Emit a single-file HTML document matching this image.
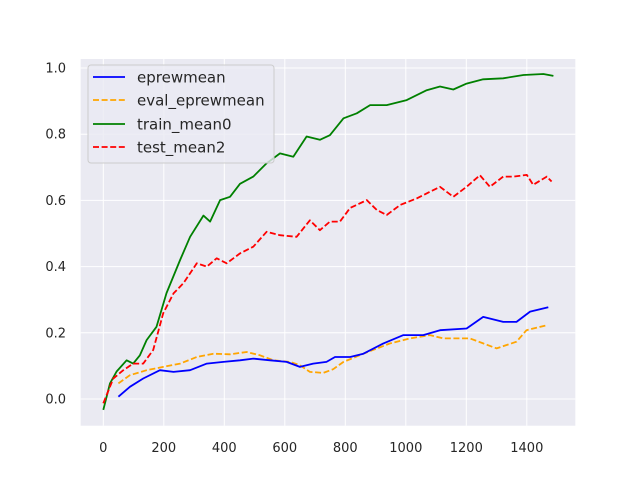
<!DOCTYPE html>
<html><head><meta charset="utf-8"><style>
html,body{margin:0;padding:0;background:#fff;}
svg{display:block;font-family:"DejaVu Sans","Liberation Sans",sans-serif;}
</style></head><body>
<svg id="chart" width="640" height="480" xmlns="http://www.w3.org/2000/svg">
<rect x="80.7" y="59" width="494.6" height="366.7" fill="#eaeaf2"/>
<g id="grid"></g>
<g id="ticks"></g>
<g id="series"></g>
<g id="legend">
<rect x="88" y="65" width="186" height="98" rx="3" fill="#eaeaf2" fill-opacity="0.8" stroke="#cccccc" stroke-width="1"/>
<g><line x1="93" y1="77" x2="125" y2="77" stroke="#0000ff" stroke-width="1.8"/><text x="137" y="82.5" font-size="15" fill="#262626">eprewmean</text></g>
<g><line x1="93" y1="100" x2="125" y2="100" stroke="#ffa500" stroke-width="1.8" stroke-dasharray="6,2.6"/><text x="137" y="105.5" font-size="15" fill="#262626">eval_eprewmean</text></g>
<g><line x1="93" y1="124" x2="125" y2="124" stroke="#008000" stroke-width="1.8"/><text x="137" y="129.5" font-size="15" fill="#262626">train_mean0</text></g>
<g><line x1="93" y1="147" x2="125" y2="147" stroke="#ff0000" stroke-width="1.8" stroke-dasharray="6,2.6"/><text x="137" y="152.5" font-size="15" fill="#262626">test_mean2</text></g>
</g>
</svg>
<script>
const xTicks=[0,200,400,600,800,1000,1200,1400];
const yTicks=[0.0,0.2,0.4,0.6,0.8,1.0];
const trainX=[0,22,44,77,99,121,143,176,209,254,287,331,353,386,419,452,496,540,584,628,672,716,749,794,838,882,937,1003,1069,1113,1157,1201,1256,1322,1389,1455,1488];
const trainY=[-0.033,0.047,0.083,0.117,0.107,0.132,0.178,0.218,0.32,0.42,0.49,0.554,0.536,0.601,0.611,0.65,0.672,0.712,0.742,0.732,0.793,0.783,0.797,0.848,0.863,0.888,0.888,0.903,0.933,0.944,0.935,0.953,0.966,0.969,0.979,0.982,0.976];
const testX=[0,33,66,99,132,165,198,232,265,309,342,375,408,452,496,540,584,639,683,716,749,782,816,871,904,937,981,1036,1113,1157,1201,1245,1278,1322,1355,1400,1421,1466,1482];
const testY=[-0.013,0.062,0.087,0.107,0.107,0.148,0.259,0.319,0.35,0.41,0.40,0.425,0.41,0.44,0.46,0.505,0.495,0.49,0.54,0.51,0.536,0.536,0.577,0.601,0.571,0.556,0.586,0.606,0.641,0.611,0.641,0.676,0.641,0.672,0.672,0.677,0.647,0.672,0.657];
const epX=[50,88,132,187,232,287,342,397,452,496,551,606,650,694,738,766,816,860,926,992,1058,1113,1201,1256,1322,1366,1411,1471];
const epY=[0.007,0.037,0.062,0.087,0.082,0.087,0.107,0.112,0.117,0.122,0.117,0.112,0.097,0.107,0.112,0.127,0.127,0.137,0.168,0.193,0.193,0.208,0.213,0.248,0.233,0.233,0.264,0.277];
const evX=[50,88,143,198,254,309,364,419,474,518,562,617,650,683,727,760,794,860,948,1014,1080,1124,1212,1256,1300,1366,1399,1466];
const evY=[0.047,0.072,0.087,0.097,0.107,0.127,0.137,0.135,0.142,0.132,0.117,0.112,0.102,0.082,0.079,0.09,0.112,0.137,0.168,0.183,0.193,0.183,0.183,0.168,0.153,0.173,0.208,0.223];

const NS="http://www.w3.org/2000/svg";
const xs=v=>103.3+v*0.3025;
const ys=v=>399-v*331;
const grid=document.getElementById('grid'),ticks=document.getElementById('ticks'),series=document.getElementById('series');
function mk(tag,attrs,parent){const e=document.createElementNS(NS,tag);for(const k in attrs)e.setAttribute(k,attrs[k]);parent.appendChild(e);return e;}
xTicks.forEach(t=>{
  const l=mk('line',{x1:xs(t),x2:xs(t),y1:59,y2:425.7,stroke:'#fff','stroke-width':1},grid);
  
  
  const tx=mk('text',{x:xs(t),y:452,'text-anchor':'middle','font-size':13,fill:'#262626'},ticks);
  tx.textContent=String(t);
  
  
});
yTicks.forEach(t=>{
  const l=mk('line',{x1:80.7,x2:575.3,y1:ys(t),y2:ys(t),stroke:'#fff','stroke-width':1},grid);
  
  
  const tx=mk('text',{x:66,y:ys(t)+4.5,'text-anchor':'end','font-size':13,fill:'#262626'},ticks);
  tx.textContent=t.toFixed(1);
  
  
});
function draw(X,Y,color,dash,name){
  const d=X.map((x,i)=>(i?'L':'M')+xs(x).toFixed(1)+','+ys(Y[i]).toFixed(1)).join('');
  const p=mk('path',{d:d,fill:'none',stroke:color,'stroke-width':1.8,'stroke-linejoin':'round'},series);
  if(dash)p.setAttribute('stroke-dasharray','6,2.6');
  
  
}
draw(evX,evY,'#ffa500',true,'eval-eprewmean-line');
draw(epX,epY,'#0000ff',false,'eprewmean-line');
draw(trainX,trainY,'#008000',false,'train-mean0-line');
draw(testX,testY,'#ff0000',true,'test-mean2-line');
</script>
</body></html>
